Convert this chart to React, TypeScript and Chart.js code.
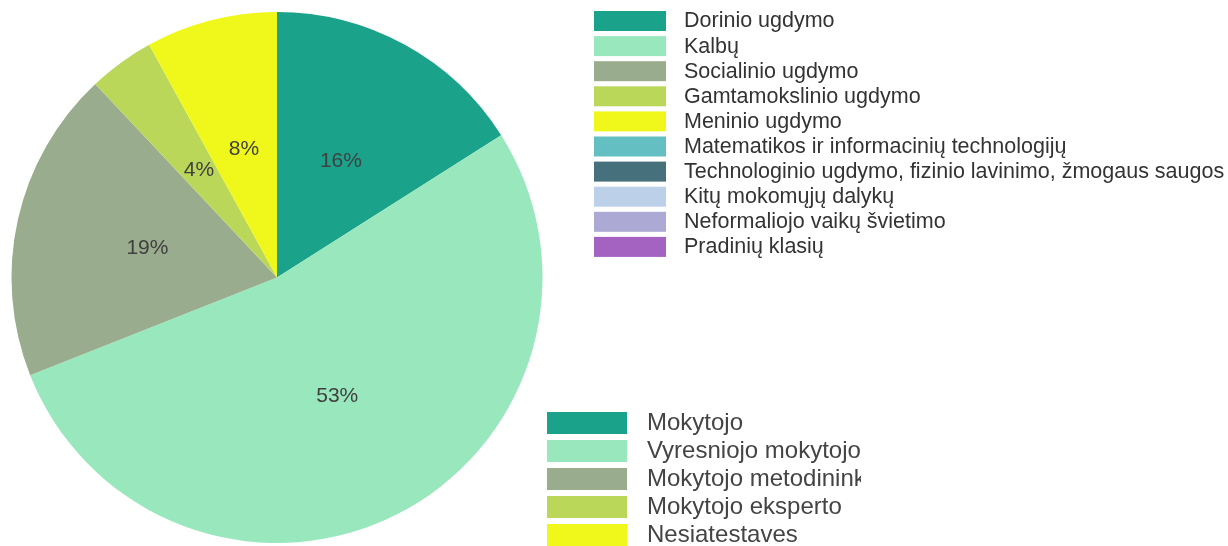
import React, { useEffect, useRef } from "react";
import { Chart, registerables } from "chart.js";

Chart.register(...registerables);

// Pie data (attestation categories)
const pieLabels = [
  "Mokytojo",
  "Vyresniojo mokytojo",
  "Mokytojo metodininko",
  "Mokytojo eksperto",
  "Nesiatestave",
];
const pieValues = [16, 53, 19, 4, 8];
const pieColors = ["#1aa38a", "#99e8bd", "#99ad8e", "#bad75a", "#f0f81b"];

// Subject-area legend
const subjectLabels = [
  "Dorinio ugdymo",
  "Kalbų",
  "Socialinio ugdymo",
  "Gamtamokslinio ugdymo",
  "Meninio ugdymo",
  "Matematikos ir informacinių technologijų",
  "Technologinio ugdymo, fizinio lavinimo, žmogaus saugos",
  "Kitų mokomųjų dalykų",
  "Neformaliojo vaikų švietimo",
  "Pradinių klasių",
];
const subjectColors = [
  "#1aa38a",
  "#99e8bd",
  "#99ad8e",
  "#bad75a",
  "#f0f81b",
  "#63bfc2",
  "#46707b",
  "#bcd0ea",
  "#aca9d4",
  "#a462c1",
];

const bottomLegendLabels = [
  "Mokytojo",
  "Vyresniojo mokytojo",
  "Mokytojo metodininko",
  "Mokytojo eksperto",
  "Nesiatestaves",
];

const FONT = '"Liberation Sans", Arial, sans-serif';

const overlayPlugin = {
  id: "overlay",
  afterDatasetsDraw(chart: any) {
    const ctx = chart.ctx as CanvasRenderingContext2D;
    const meta = chart.getDatasetMeta(0);
    const total = pieValues.reduce((a, b) => a + b, 0);
    ctx.save();
    ctx.font = `21px ${FONT}`;
    ctx.fillStyle = "#404040";
    ctx.textAlign = "center";
    ctx.textBaseline = "middle";
    meta.data.forEach((arc: any, i: number) => {
      const p = arc.getProps(["x", "y", "startAngle", "endAngle", "outerRadius"], true);
      const mid = (p.startAngle + p.endAngle) / 2;
      const r = p.outerRadius * 0.5;
      const x = p.x + Math.cos(mid) * r;
      const y = p.y + Math.sin(mid) * r;
      const pct = Math.round((pieValues[i] / total) * 100);
      ctx.fillText(pct + "%", x, y);
    });
    ctx.restore();
  },
  afterDraw(chart: any) {
    const ctx = chart.ctx as CanvasRenderingContext2D;
    // Top legend
    ctx.save();
    ctx.font = `21.5px ${FONT}`;
    ctx.textBaseline = "middle";
    ctx.textAlign = "left";
    subjectLabels.forEach((lab, i) => {
      const top = 11 + i * 25.1;
      ctx.fillStyle = subjectColors[i];
      ctx.fillRect(594, top, 72, 20);
      ctx.fillStyle = "#333333";
      ctx.fillText(lab, 684, top + 10.5);
    });
    ctx.restore();

    // Bottom legend
    ctx.save();
    ctx.font = `24px ${FONT}`;
    ctx.textBaseline = "middle";
    ctx.textAlign = "left";
    bottomLegendLabels.forEach((lab, i) => {
      const top = 412 + i * 28;
      ctx.fillStyle = pieColors[i];
      ctx.fillRect(547, top, 80, 22);
    });
    ctx.beginPath();
    ctx.rect(630, 400, 231, 146);
    ctx.clip();
    bottomLegendLabels.forEach((lab, i) => {
      const top = 412 + i * 28;
      ctx.fillStyle = "#444444";
      ctx.fillText(lab, 647, top + 11.5);
    });
    ctx.restore();
  },
};

export default function App() {
  const ref = useRef<HTMLCanvasElement | null>(null);
  useEffect(() => {
    if (!ref.current) return;
    const chart = new Chart(ref.current, {
      type: "pie",
      data: {
        labels: pieLabels,
        datasets: [
          {
            data: pieValues,
            backgroundColor: pieColors,
            borderWidth: 0,
          },
        ],
      },
      options: {
        responsive: false,
        animation: false,
        layout: { padding: { left: 11, top: 12, right: 685, bottom: 3 } },
        plugins: {
          legend: { display: false },
          tooltip: { enabled: false },
        },
      },
      plugins: [overlayPlugin],
    });
    return () => chart.destroy();
  }, []);
  return (
    <div style={{ position: "absolute", left: 0, top: 0, width: 1228, height: 546, background: "#fff" }}>
      <canvas ref={ref} width={1228} height={546} style={{ display: "block" }} />
    </div>
  );
}
